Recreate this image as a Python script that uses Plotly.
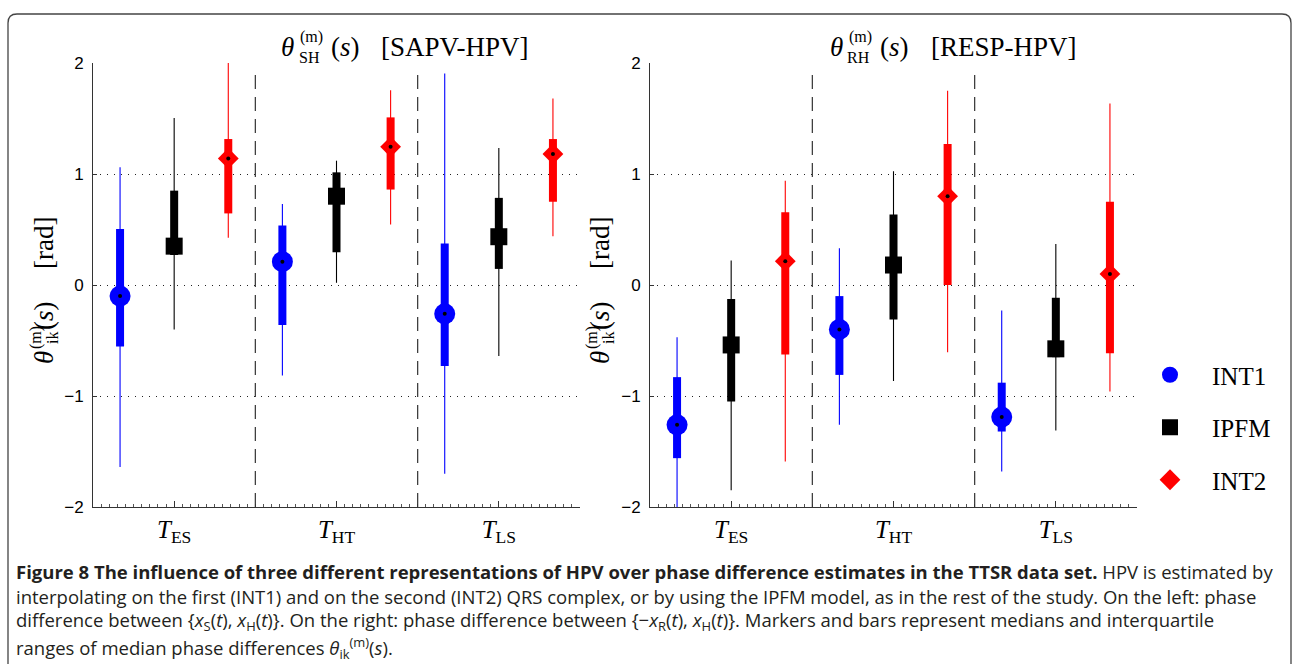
import plotly.graph_objects as go

# ---------------- data ----------------
categories = ["ES", "HT", "LS"]
methods = ["INT1", "IPFM", "INT2"]

# Left panel: theta_SH  [SAPV-HPV]
sh_int1_med = [-0.10, 0.21, -0.26]
sh_int1_q1 = [-0.555, -0.36, -0.73]
sh_int1_q3 = [0.505, 0.535, 0.375]
sh_int1_lo = [-1.64, -0.815, -1.70]
sh_int1_hi = [1.06, 0.73, 1.905]

sh_ipfm_med = [0.35, 0.80, 0.435]
sh_ipfm_q1 = [0.27, 0.295, 0.145]
sh_ipfm_q3 = [0.85, 1.015, 0.785]
sh_ipfm_lo = [-0.40, 0.02, -0.64]
sh_ipfm_hi = [1.505, 1.12, 1.235]

sh_int2_med = [1.14, 1.245, 1.18]
sh_int2_q1 = [0.645, 0.86, 0.75]
sh_int2_q3 = [1.315, 1.51, 1.315]
sh_int2_lo = [0.425, 0.545, 0.44]
sh_int2_hi = [2.0, 1.755, 1.68]

# Right panel: theta_RH  [RESP-HPV]
rh_int1_med = [-1.26, -0.40, -1.19]
rh_int1_q1 = [-1.56, -0.81, -1.32]
rh_int1_q3 = [-0.83, -0.10, -0.88]
rh_int1_lo = [-2.0, -1.26, -1.68]
rh_int1_hi = [-0.47, 0.33, -0.23]

rh_ipfm_med = [-0.54, 0.18, -0.575]
rh_ipfm_q1 = [-1.05, -0.31, -0.65]
rh_ipfm_q3 = [-0.125, 0.635, -0.115]
rh_ipfm_lo = [-1.85, -0.865, -1.31]
rh_ipfm_hi = [0.22, 1.025, 0.37]

rh_int2_med = [0.215, 0.80, 0.10]
rh_int2_q1 = [-0.625, 0.0, -0.615]
rh_int2_q3 = [0.655, 1.27, 0.75]
rh_int2_lo = [-1.59, -0.605, -0.96]
rh_int2_hi = [0.94, 1.75, 1.635]

y_ticks = [-2, -1, 0, 1, 2]

# ---------------- styling ----------------
W, H = 1295, 664
def px(x): return x / W
def py(y): return 1 - y / H

colors = {"INT1": "#0000ff", "IPFM": "#000000", "INT2": "#ff0000"}
symbols = {"INT1": "circle", "IPFM": "square", "INT2": "diamond"}
msizes = {"INT1": 21, "IPFM": 17, "INT2": 16}
offsets = {"INT1": -1/3, "IPFM": 0.0, "INT2": 1/3}
SERIF = "Liberation Serif"

panels = [
    ("x", "y", {
        "INT1": (sh_int1_med, sh_int1_q1, sh_int1_q3, sh_int1_lo, sh_int1_hi),
        "IPFM": (sh_ipfm_med, sh_ipfm_q1, sh_ipfm_q3, sh_ipfm_lo, sh_ipfm_hi),
        "INT2": (sh_int2_med, sh_int2_q1, sh_int2_q3, sh_int2_lo, sh_int2_hi),
    }),
    ("x2", "y2", {
        "INT1": (rh_int1_med, rh_int1_q1, rh_int1_q3, rh_int1_lo, rh_int1_hi),
        "IPFM": (rh_ipfm_med, rh_ipfm_q1, rh_ipfm_q3, rh_ipfm_lo, rh_ipfm_hi),
        "INT2": (rh_int2_med, rh_int2_q1, rh_int2_q3, rh_int2_lo, rh_int2_hi),
    }),
]

fig = go.Figure()

for pi, (xa, ya, data) in enumerate(panels):
    for m in methods:
        med, q1, q3, lo, hi = data[m]
        xs = [i + 1 + offsets[m] for i in range(len(categories))]
        wx, wy, bx, by = [], [], [], []
        for k in range(len(xs)):
            wx += [xs[k], xs[k], None]
            wy += [lo[k], hi[k], None]
            bx += [xs[k], xs[k], None]
            by += [q1[k], q3[k], None]
        fig.add_trace(go.Scatter(x=wx, y=wy, mode="lines", xaxis=xa, yaxis=ya,
                                 line=dict(color=colors[m], width=1.1),
                                 showlegend=False, hoverinfo="skip"))
        fig.add_trace(go.Scatter(x=bx, y=by, mode="lines", xaxis=xa, yaxis=ya,
                                 line=dict(color=colors[m], width=8),
                                 showlegend=False, hoverinfo="skip"))
    for m in methods:
        med = data[m][0]
        xs = [i + 1 + offsets[m] for i in range(len(categories))]
        fig.add_trace(go.Scatter(x=xs, y=med, mode="markers", xaxis=xa, yaxis=ya,
                                 name=m, legendgroup=m, showlegend=(pi == 0),
                                 marker=dict(symbol=symbols[m], size=msizes[m],
                                             color=colors[m], line=dict(width=0))))
    for m in methods:
        med = data[m][0]
        xs = [i + 1 + offsets[m] for i in range(len(categories))]
        fig.add_trace(go.Scatter(x=xs, y=med, mode="markers", xaxis=xa, yaxis=ya,
                                 showlegend=False, hoverinfo="skip",
                                 marker=dict(symbol="circle", size=4, color="black",
                                             line=dict(width=0))))

tick_text = ["<i>T</i><sub>%s</sub>" % c for c in categories]
separators = [1.5, 2.5]

xcommon = dict(range=[0.5, 3.5], tickvals=[1, 2, 3], ticktext=tick_text,
               ticks="inside", ticklen=6, tickcolor="#333", tickwidth=1,
               showline=True, linecolor="#333", linewidth=1, showgrid=False,
               zeroline=False, fixedrange=True, automargin=False,
               tickfont=dict(family=SERIF, size=25, color="black"),
               minor=dict(ticks="inside", ticklen=3, dtick=0.05, tick0=0.5,
                          tickcolor="#555", showgrid=False))
ycommon = dict(range=[-2, 2], tickvals=y_ticks, ticks="inside", ticklen=4,
               tickcolor="#333", showline=True, linecolor="#333", linewidth=1,
               showgrid=True, gridcolor="#222", gridwidth=1, griddash="1px,6px",
               zeroline=False, fixedrange=True, automargin=False,
               ticklabelstandoff=5,
               tickfont=dict(family="Liberation Sans", size=17, color="black"))

fig.update_layout(
    width=W, height=H, autosize=False,
    margin=dict(l=0, r=0, t=0, b=0),
    paper_bgcolor="white", plot_bgcolor="white",
    xaxis=dict(domain=[px(93), px(580)], anchor="y", **xcommon),
    yaxis=dict(domain=[py(507), py(63)], anchor="x", **ycommon),
    xaxis2=dict(domain=[px(650), px(1137)], anchor="y2", **xcommon),
    yaxis2=dict(domain=[py(507), py(63)], anchor="x2", **ycommon),
    legend=dict(x=px(1128), y=py(352), xanchor="left", yanchor="top",
                font=dict(family=SERIF, size=25, color="black"),
                traceorder="grouped", tracegroupgap=17, itemwidth=74,
                bgcolor="rgba(0,0,0,0)"),
    showlegend=True,
)

shapes = []
for xa, ya in [("x", "y"), ("x2", "y2")]:
    for s in separators:
        shapes.append(dict(type="line", xref=xa, yref=ya, x0=s, x1=s, y0=-2, y1=1.92,
                           line=dict(color="#333", width=1.2, dash="14px,8px")))
# rounded figure frame
L, R, T, B, r = 8, 1291, 14, 680, 9
path = (f"M {px(L)},{py(B)} L {px(L)},{py(T + r)} Q {px(L)},{py(T)} {px(L + r)},{py(T)} "
        f"L {px(R - r)},{py(T)} Q {px(R)},{py(T)} {px(R)},{py(T + r)} L {px(R)},{py(B)}")
shapes.append(dict(type="path", xref="paper", yref="paper", path=path,
                   line=dict(color="#444", width=1.3)))
fig.update_layout(shapes=shapes)

ann = []
def txt(x, y, t, size, family=SERIF, angle=0, xanchor="center", color="black"):
    ann.append(dict(x=px(x), y=py(y), xref="paper", yref="paper", text=t,
                    showarrow=False, xanchor=xanchor, yanchor="middle",
                    textangle=angle, font=dict(family=family, size=size, color=color)))

# panel titles
for x0, sub, label in [(287, "SH", "[SAPV-HPV]"), (836, "RH", "[RESP-HPV]")]:
    txt(x0, 47, "<i>θ</i>", 27)
    txt(x0 + 24, 36.5, "(m)", 16)
    txt(x0 + 22.5, 57.5, sub, 16)
    txt(x0 + 58, 47, "(<i>s</i>)", 27)
    txt(x0 + 168, 47, label, 27)

# y-axis labels (rotated)
for xc in [44, 600]:
    txt(xc, 358, "<i>θ</i>", 27, angle=-90)
    txt(xc - 8, 338, "(m)", 16, angle=-90)
    txt(xc + 8, 338, "ik", 16, angle=-90)
    txt(xc, 316, "(<i>s</i>)", 27, angle=-90)
    txt(xc, 243, "[rad]", 27, angle=-90)

# caption
CAP = "Open Sans"
cap_color = "#231f20"
cap_lines = [
    "<b>Figure 8 The influence of three different representations of HPV over phase difference estimates in the TTSR data set.</b> HPV is estimated by",
    "interpolating on the first (INT1) and on the second (INT2) QRS complex, or by using the IPFM model, as in the rest of the study. On the left: phase",
    "difference between {<i>x</i><sub>S</sub>(<i>t</i>), <i>x</i><sub>H</sub>(<i>t</i>)}. On the right: phase difference between {−<i>x</i><sub>R</sub>(<i>t</i>), <i>x</i><sub>H</sub>(<i>t</i>)}. Markers and bars represent medians and interquartile",
    "ranges of median phase differences <i>θ</i><sub>ik</sub><sup>(m)</sup>(<i>s</i>).",
]
for yc, line in zip([571, 596, 620.5, 647.5], cap_lines):
    txt(14, yc, line, 18.5, family=CAP, xanchor="left", color=cap_color)

fig.update_layout(annotations=ann)
fig.write_html("out.html")
